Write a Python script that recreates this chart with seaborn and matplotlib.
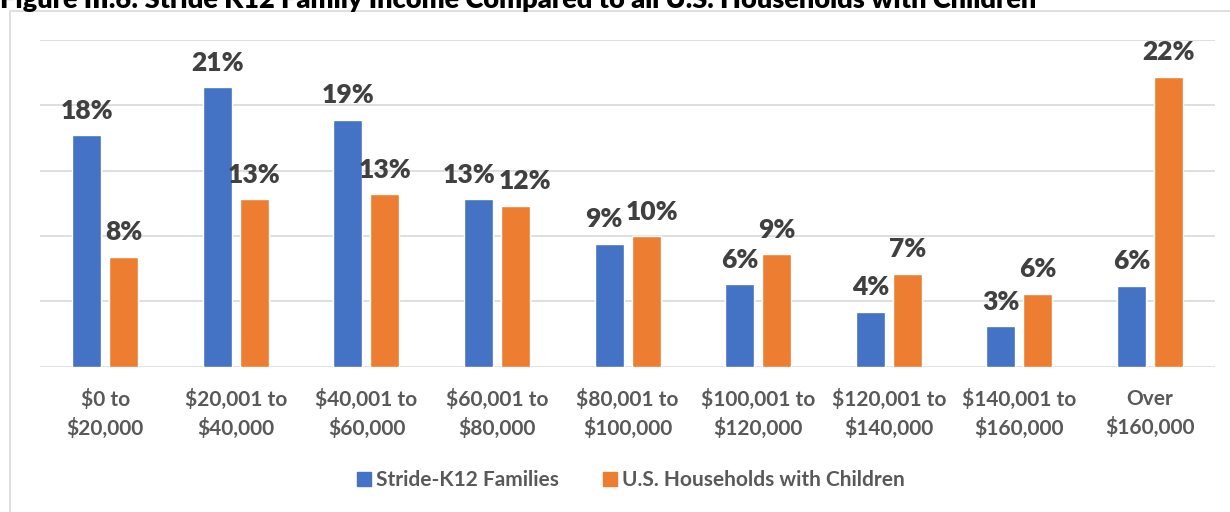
import pandas as pd
import seaborn as sns
import matplotlib.pyplot as plt
from matplotlib.patches import Rectangle

## Data (percent of households)
brackets = ['$0 to\n$20,000', '$20,001 to\n$40,000', '$40,001 to\n$60,000',
            '$60,001 to\n$80,000', '$80,001 to\n$100,000', '$100,001 to\n$120,000',
            '$120,001 to\n$140,000', '$140,001 to\n$160,000', 'Over\n$160,000']
stride_pct = [17.7, 21.4, 18.9, 12.8, 9.4, 6.3, 4.2, 3.1, 6.2]
us_pct = [8.4, 12.8, 13.2, 12.3, 10.0, 8.6, 7.1, 5.6, 22.2]
series_names = ['Stride-K12 Families', 'U.S. Households with Children']
title = 'Figure III.6: Stride K12 Family Income Compared to all U.S. Households with Children'

df = pd.DataFrame({
    'bracket': brackets * 2,
    'pct': stride_pct + us_pct,
    'group': [series_names[0]] * len(brackets) + [series_names[1]] * len(brackets),
})

## Style
sns.set_style('white')
plt.rcParams['font.family'] = ['Lato', 'DejaVu Sans']
blue = '#4472C4'
orange = '#ED7D31'
grid_grey = '#D9D9D9'
label_grey = '#404040'
tick_grey = '#595959'

dpi = 100
fig = plt.figure(figsize=(1230/dpi, 512/dpi), dpi=dpi)
ax = fig.add_axes([40/1230, 145.3/512, (1215.3-40)/1230, 326.7/512])

sns.barplot(data=df, x='bracket', y='pct', hue='group',
            palette=[blue, orange], width=0.567, gap=0.216,
            ax=ax, legend=True, saturation=1)

labels = []
for cont in ax.containers:
    labels.append(ax.bar_label(cont, fmt='{:.0f}%', padding=9, fontsize=19,
                               fontweight='heavy', color=label_grey))

ax.set_ylim(0, 25)
ax.set_xlim(-0.5, len(brackets) - 0.5)
ax.set_yticks(range(0, 26, 5))
ax.set_yticklabels([])
ax.yaxis.grid(True, color=grid_grey, linewidth=1.2)
ax.set_axisbelow(True)
ax.tick_params(axis='both', length=0)
ax.tick_params(axis='x', pad=16)
for lbl in ax.get_xticklabels():
    lbl.set_fontsize(15)
    lbl.set_fontweight('bold')
    lbl.set_color(tick_grey)
    lbl.set_linespacing(1.45)
ax.set_xlabel('')
ax.set_ylabel('')
sns.despine(ax=ax, left=True, bottom=True, top=True, right=True)

## Legend below the chart
ax.legend_.remove()
handles = [Rectangle((0, 0), 1, 1, color=blue), Rectangle((0, 0), 1, 1, color=orange)]
leg = fig.legend(handles, series_names, loc='center', ncol=2,
                 bbox_to_anchor=(631/1230, 1 - 480/512), frameon=False,
                 prop={'size': 15, 'weight': 'bold'},
                 handlelength=0.67, handleheight=0.67, handletextpad=0.24,
                 columnspacing=2.15)
for t in leg.get_texts():
    t.set_color(tick_grey)

## Chart border and clipped title
fig.patches.append(Rectangle((10/1230, -0.1), 1.1, 1 - 11/512 + 0.1,
                             transform=fig.transFigure, fill=False,
                             edgecolor=grid_grey, linewidth=1.2, clip_on=False))
fig.text(0, 1 - 8/512, title, fontsize=19.5, fontweight='heavy',
         color='black', va='baseline', ha='left')

## Nudge data labels apart where a pair collides (like Excel does)
fig.canvas.draw()
renderer = fig.canvas.get_renderer()
for a, b in zip(labels[0], labels[1]):
    ea = a.get_window_extent(renderer)
    eb = b.get_window_extent(renderer)
    vert = min(ea.y1, eb.y1) - max(ea.y0, eb.y0)
    overlap = ea.x1 - eb.x0 + 3
    if overlap > 0 and vert > 0:
        shift = overlap / 2 * 72 / dpi
        ax_, ay_ = a.xyann
        bx_, by_ = b.xyann
        a.xyann = (ax_ - shift, ay_)
        b.xyann = (bx_ + shift, by_)

fig.savefig('out.png', dpi=dpi)
